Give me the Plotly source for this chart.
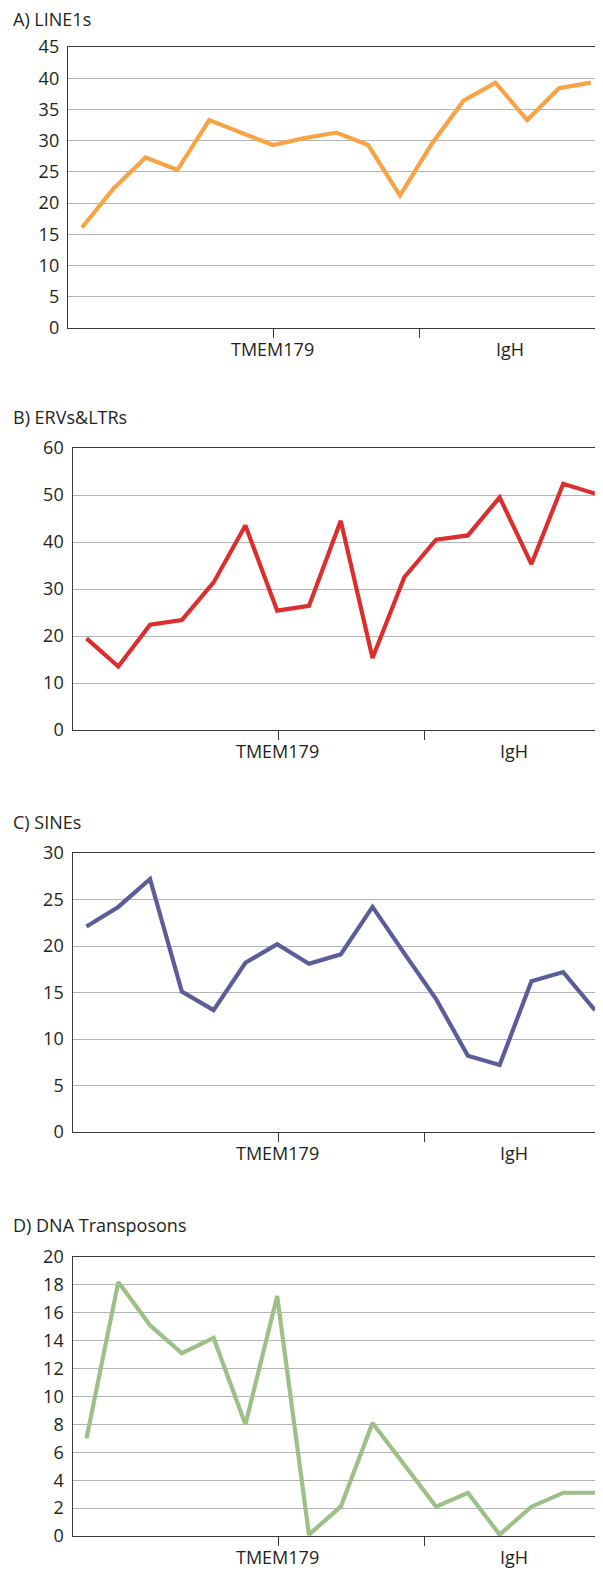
import plotly.graph_objects as go

# ---- data ----
positions = list(range(17))
line1s = [16.1, 22.4, 27.3, 25.3, 33.3, 31.3, 29.3, 30.4, 31.3, 29.3, 21.2, 29.5, 36.4, 39.3, 33.3, 38.4, 39.3]
ervs_ltrs = [19.5, 13.5, 22.4, 23.4, 31.4, 43.5, 25.4, 26.4, 44.5, 15.3, 32.5, 40.5, 41.4, 49.5, 35.3, 52.4, 50.3]
sines = [22.1, 24.2, 27.2, 15.1, 13.1, 18.2, 20.2, 18.1, 19.1, 24.2, 19.2, 14.3, 8.2, 7.2, 16.2, 17.2, 13.1]
dna_transposons = [7.0, 18.2, 15.1, 13.1, 14.2, 8.0, 17.2, 0.1, 2.1, 8.1, 5.1, 2.1, 3.1, 0.1, 2.1, 3.1, 3.1]

titles = ["A) LINE1s", "B) ERVs&LTRs", "C) SINEs", "D) DNA Transposons"]
colors = ["#F8A444", "#DD2E2E", "#5C5C9A", "#9DBF88"]
y_max = [45, 60, 30, 20]
y_step = [5, 10, 5, 2]
category_labels = ["TMEM179", "IgH"]
category_label_pos = [6.0, 13.45]
tick_pos = [6.03, 10.62]

series = [line1s, ervs_ltrs, sines, dna_transposons]

W, H = 603, 1571
OFF = 8  # page body margin offset (the figure is drawn 8px in from the page corner)
# pixel layout in page coordinates
panels = [
    dict(top=47, bottom=328, left=68, title_y=19, x0=82.0, dx=31.8),
    dict(top=448, bottom=730, left=72.5, title_y=417, x0=86.5, dx=31.78),
    dict(top=853, bottom=1132, left=72.5, title_y=822, x0=86.5, dx=31.78),
    dict(top=1257, bottom=1536, left=72.5, title_y=1225, x0=86.5, dx=31.78),
]

FONT = "Open Sans, Noto Sans, sans-serif"
TXT = "#231F20"


def fx(px):
    return (px - OFF) / W


def fy(py):
    return 1 - (py - OFF) / H


fig = go.Figure()
annotations = []
layout = dict(
    template="none",
    width=W, height=H,
    margin=dict(l=0, r=0, t=0, b=0, pad=0),
    paper_bgcolor="white", plot_bgcolor="white",
    showlegend=False,
    font=dict(family=FONT, size=18, color=TXT),
)

for i, (vals, p) in enumerate(zip(series, panels)):
    n = i + 1
    xa = "x" if n == 1 else f"x{n}"
    ya = "y" if n == 1 else f"y{n}"
    fig.add_trace(go.Scatter(
        x=positions, y=vals, mode="lines",
        line=dict(color=colors[i], width=4.2),
        xaxis=xa, yaxis=ya, hoverinfo="skip",
    ))
    left_r = -(p["x0"] - p["left"]) / p["dx"]
    right_r = (W + OFF - p["x0"]) / p["dx"]
    layout["xaxis" if n == 1 else f"xaxis{n}"] = dict(
        domain=[fx(p["left"]), 1.0],
        anchor=ya,
        automargin=False,
        range=[left_r, right_r],
        showgrid=False, zeroline=False,
        showline=True, linecolor="#3a3a3a", linewidth=1.4, mirror=True,
        tickmode="array", tickvals=tick_pos, ticktext=["", ""],
        ticks="outside", ticklen=9, tickwidth=1.2, tickcolor="#3a3a3a",
        fixedrange=True,
    )
    layout["yaxis" if n == 1 else f"yaxis{n}"] = dict(
        domain=[fy(p["bottom"]), fy(p["top"])],
        anchor=xa,
        automargin=False,
        range=[0, y_max[i]],
        tickmode="linear", tick0=0, dtick=y_step[i],
        showgrid=True, gridcolor="#B4B4B4", gridwidth=1.4,
        zeroline=False,
        showline=True, linecolor="#3a3a3a", linewidth=1.4,
        ticks="outside", ticklen=4, tickcolor="rgba(0,0,0,0)",
        tickfont=dict(family=FONT, size=18, color=TXT),
        fixedrange=True,
    )
    # panel title
    annotations.append(dict(
        text=titles[i], xref="paper", yref="paper",
        x=fx(11), y=fy(p["title_y"]), xanchor="left", yanchor="middle",
        showarrow=False, font=dict(family=FONT, size=18, color=TXT),
    ))
    # category labels under x axis
    for lab, pos in zip(category_labels, category_label_pos):
        annotations.append(dict(
            text=lab, xref=xa, yref=f"{ya} domain",
            x=pos, y=0, xanchor="center", yanchor="middle", yshift=-21,
            showarrow=False, font=dict(family=FONT, size=18, color=TXT),
        ))

layout["annotations"] = annotations
fig.update_layout(**layout)
fig.write_html("out.html")
